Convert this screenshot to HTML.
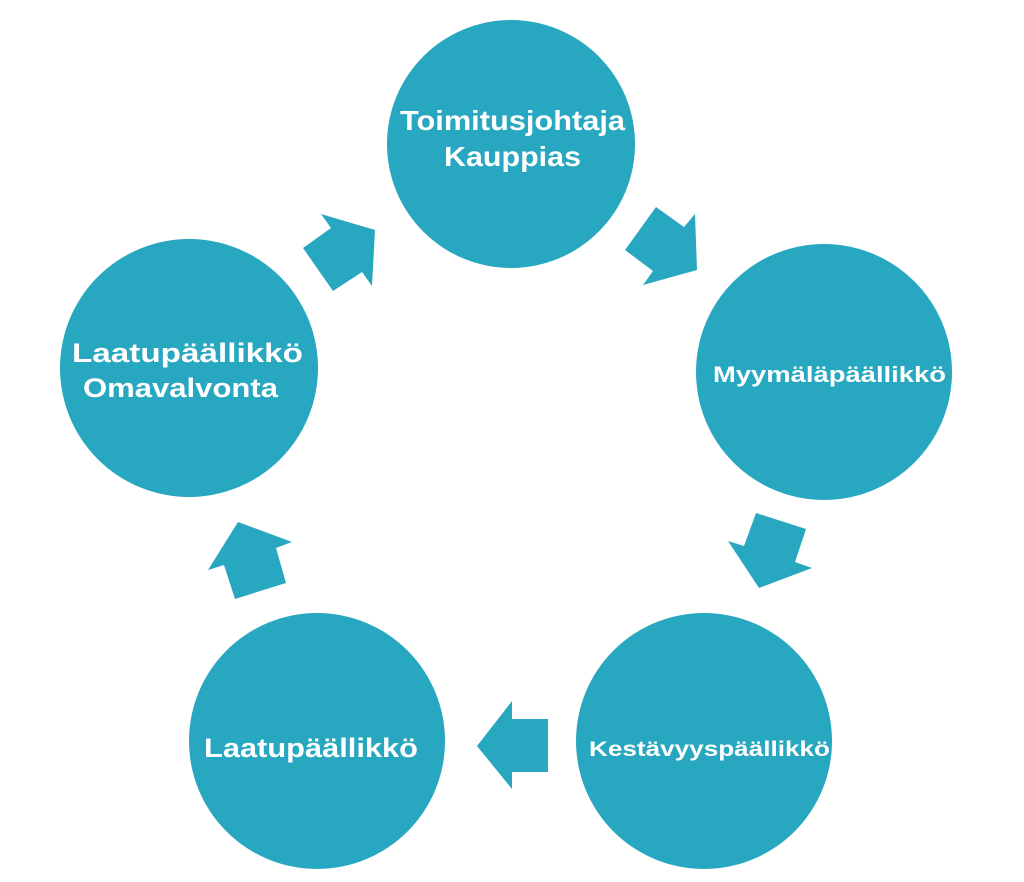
<!DOCTYPE html>
<html><head><meta charset="utf-8"><style>html,body{margin:0;padding:0;background:#fff}svg{display:block}</style></head>
<body>
<svg width="1024" height="882" viewBox="0 0 1024 882" xmlns="http://www.w3.org/2000/svg">
<g fill="#28a7c0">
<circle cx="511" cy="144" r="124"/>
<circle cx="824" cy="372" r="128"/>
<circle cx="704" cy="741" r="128"/>
<circle cx="317" cy="741" r="128"/>
<circle cx="189" cy="368" r="129"/>
<polygon points="321,214 375,230 372,286 362,272 333,291 303,248 331,228"/>
<polygon points="656,207 684,227 695,214 697,270 643,285 653,271 625,250"/>
<polygon points="756,513 806,529 795,562 812,568 759,588 728,541 744,546"/>
<polygon points="477,746 512,701 512,719 548,719 548,772 512,772 512,789"/>
<polygon points="238,522 292,542 276,548 286,583 235,599 224,565 208,570"/>
</g>
<g fill="#fff" font-family="Liberation Sans, sans-serif" font-weight="bold">
<text x="400" y="130" font-size="28" textLength="225" lengthAdjust="spacingAndGlyphs">Toimitusjohtaja</text>
<text x="444" y="166" font-size="28" textLength="137" lengthAdjust="spacingAndGlyphs">Kauppias</text>
<text x="72" y="362" font-size="27" textLength="231" lengthAdjust="spacingAndGlyphs">Laatupäällikkö</text>
<text x="83" y="397" font-size="27" textLength="195" lengthAdjust="spacingAndGlyphs">Omavalvonta</text>
<text x="713" y="382" font-size="22" textLength="233" lengthAdjust="spacingAndGlyphs">Myymäläpäällikkö</text>
<text x="589" y="756" font-size="21" textLength="241" lengthAdjust="spacingAndGlyphs">Kestävyyspäällikkö</text>
<text x="204" y="757" font-size="27" textLength="214" lengthAdjust="spacingAndGlyphs">Laatupäällikkö</text>
</g>
</svg>
</body></html>
